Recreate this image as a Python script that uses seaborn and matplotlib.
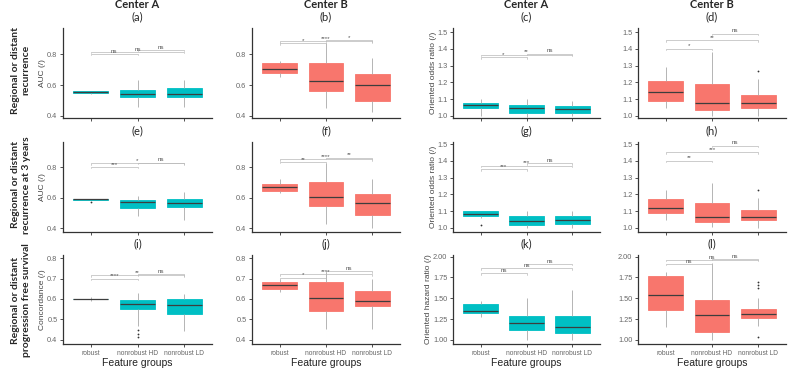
import numpy as np
import pandas as pd
import seaborn as sns
import matplotlib.pyplot as plt
from matplotlib.ticker import FormatStrFormatter

GROUPS = ['robust', 'nonrobust HD', 'nonrobust LD']
PAIRS = [(0, 1), (0, 2), (1, 2)]

# box values per group: whisker low, q1, median, q3, whisker high
box_a = [[0.545, 0.547, 0.553, 0.559, 0.562], [0.458, 0.523, 0.542, 0.568, 0.632], [0.46, 0.523, 0.54, 0.58, 0.63]]
box_b = [[0.65, 0.677, 0.703, 0.742, 0.755], [0.45, 0.563, 0.626, 0.742, 0.87], [0.426, 0.497, 0.60, 0.671, 0.774]]
box_c = [[1.0, 1.048, 1.066, 1.078, 1.10], [0.995, 1.018, 1.048, 1.066, 1.10], [1.0, 1.02, 1.04, 1.06, 1.09]]
box_d = [[1.045, 1.09, 1.145, 1.21, 1.29], [1.0, 1.035, 1.077, 1.19, 1.38], [1.0, 1.05, 1.08, 1.125, 1.22]]
box_e = [[0.585, 0.587, 0.59, 0.592, 0.593], [0.482, 0.535, 0.574, 0.587, 0.61], [0.455, 0.54, 0.567, 0.59, 0.64]]
box_f = [[0.63, 0.645, 0.672, 0.69, 0.725], [0.43, 0.547, 0.607, 0.70, 0.83], [0.40, 0.487, 0.567, 0.627, 0.725]]
box_g = [[1.06, 1.07, 1.085, 1.10, 1.10], [1.0, 1.02, 1.04, 1.072, 1.10], [1.0, 1.025, 1.05, 1.072, 1.10]]
box_h = [[1.045, 1.087, 1.118, 1.17, 1.225], [1.005, 1.037, 1.063, 1.147, 1.265], [1.0, 1.045, 1.068, 1.105, 1.18]]
box_i = [[0.59, 0.598, 0.60, 0.602, 0.61], [0.47, 0.549, 0.576, 0.593, 0.63], [0.445, 0.528, 0.57, 0.60, 0.625]]
box_j = [[0.635, 0.65, 0.668, 0.683, 0.70], [0.455, 0.54, 0.603, 0.683, 0.73], [0.455, 0.565, 0.588, 0.64, 0.70]]
box_k = [[1.28, 1.32, 1.35, 1.43, 1.47], [1.0, 1.12, 1.20, 1.29, 1.50], [1.0, 1.085, 1.16, 1.29, 1.60]]
box_l = [[1.16, 1.36, 1.535, 1.77, 1.82], [1.0, 1.09, 1.295, 1.48, 1.92], [1.17, 1.265, 1.31, 1.37, 1.50]]

# outlier points per group
out_d = [[], [], [1.265]]
out_e = [[0.575], [], []]
out_g = [[1.02], [], []]
out_h = [[], [], [1.225]]
out_i = [[], [0.45, 0.43, 0.415], []]
out_l = [[], [], [1.70, 1.66, 1.62, 1.03]]
no_out = [[], [], []]

# comparison brackets (robust-HD, robust-LD, HD-LD): height, label
brk_a = [(0.80, 'ns'), (0.813, 'ns'), (0.826, 'ns')]
brk_b = [(0.868, '*'), (0.882, '****'), (0.888, '*')]
brk_c = [(1.35, '*'), (1.365, '**'), (1.372, 'ns')]
brk_d = [(1.40, '*'), (1.45, '**'), (1.49, 'ns')]
brk_e = [(0.80, '***'), (0.826, '*'), (0.83, 'ns')]
brk_f = [(0.833, '**'), (0.85, '****'), (0.86, '**')]
brk_g = [(1.35, '***'), (1.37, '***'), (1.385, 'ns')]
brk_h = [(1.40, '**'), (1.45, '***'), (1.49, 'ns')]
brk_i = [(0.70, '****'), (0.715, '**'), (0.72, 'ns')]
brk_j = [(0.705, '*'), (0.72, '****'), (0.735, 'ns')]
brk_k = [(1.80, 'ns'), (1.86, 'ns'), (1.91, 'ns')]
brk_l = [(1.91, 'ns'), (1.96, 'ns'), (1.97, 'ns')]

row_titles = ['Regional or distant\nrecurrence',
              'Regional or distant\nrecurrence at 3 years',
              'Regional or distant\nprogression free survival']
col_titles = ['Center A', 'Center B', 'Center A', 'Center B']
ylabels = [['AUC (/)', None, 'Oriented odds ratio (/)', None],
           ['AUC (/)', None, 'Oriented odds ratio (/)', None],
           ['Concordance (/)', None, 'Oriented hazard ratio (/)', None]]

CYAN = '#00BFC4'
SALMON = '#F8766D'

auc_lim, auc_ticks = (0.387, 0.968), [0.4, 0.6, 0.8]
or_ticks = [1.0, 1.1, 1.2, 1.3, 1.4, 1.5]
panels = [
    ('a', box_a, no_out, brk_a, auc_lim, auc_ticks, '%.1f'),
    ('b', box_b, no_out, brk_b, auc_lim, auc_ticks, '%.1f'),
    ('c', box_c, no_out, brk_c, (0.988, 1.524), or_ticks, '%.1f'),
    ('d', box_d, out_d, brk_d, (0.988, 1.524), or_ticks, '%.1f'),
    ('e', box_e, out_e, brk_e, (0.377, 0.964), auc_ticks, '%.1f'),
    ('f', box_f, no_out, brk_f, (0.377, 0.964), auc_ticks, '%.1f'),
    ('g', box_g, out_g, brk_g, (0.976, 1.512), or_ticks, '%.1f'),
    ('h', box_h, out_h, brk_h, (0.976, 1.512), or_ticks, '%.1f'),
    ('i', box_i, out_i, brk_i, (0.38, 0.815), [0.4, 0.5, 0.6, 0.7, 0.8], '%.1f'),
    ('j', box_j, no_out, brk_j, (0.38, 0.815), [0.4, 0.5, 0.6, 0.7, 0.8], '%.1f'),
    ('k', box_k, no_out, brk_k, (0.95, 2.02), [1.0, 1.25, 1.5, 1.75, 2.0], '%.2f'),
    ('l', box_l, out_l, brk_l, (0.95, 2.02), [1.0, 1.25, 1.5, 1.75, 2.0], '%.2f'),
]

sns.set_theme(style='ticks')
plt.rcParams['font.family'] = ['Liberation Sans', 'DejaVu Sans']

W, H = 792, 368
col_x = [(63, 212), (252, 400), (453, 600), (638, 786)]
row_y = [(28, 118), (142, 232), (255, 344)]

fig = plt.figure(figsize=(7.92, 3.68), dpi=100)

for idx, (letter, box, outl, brk, ylim, yticks, fmt) in enumerate(panels):
    r, c = divmod(idx, 4)
    x0, x1 = col_x[c]
    y0, y1 = row_y[r]
    ax = fig.add_axes([x0 / W, 1 - y1 / H, (x1 - x0) / W, (y1 - y0) / H])
    color = CYAN if c % 2 == 0 else SALMON

    df = pd.DataFrame({'group': np.repeat(GROUPS, 5), 'value': np.concatenate(box)})
    sns.boxplot(data=df, x='group', y='value', order=GROUPS, color=color, saturation=1,
                whis=(0, 100), width=0.75, showcaps=False, linewidth=0.6,
                boxprops=dict(edgecolor=color),
                medianprops=dict(color='#3d3d3d', linewidth=0.9),
                whiskerprops=dict(color='#a8a8a8', linewidth=0.6), ax=ax)

    odf = pd.DataFrame({'group': [g for g, vals in zip(GROUPS, outl) for _ in vals],
                        'value': [v for vals in outl for v in vals]})
    if len(odf):
        sns.stripplot(data=odf, x='group', y='value', order=GROUPS, jitter=False,
                      color='#333333', size=1.3, ax=ax)

    # significance brackets
    tip = 0.015 * (ylim[1] - ylim[0])
    for (i1, i2), (yb, lab) in zip(PAIRS, brk):
        ax.plot([i1, i1, i2, i2], [yb - tip, yb, yb, yb - tip], color='#b8b8b8', lw=0.5)
        ax.text((i1 + i2) / 2, yb + tip * 0.3, lab, ha='center', va='bottom',
                fontsize=4.5, color='#555555')

    ax.set_xlim(-0.6, 2.6)
    ax.set_ylim(*ylim)
    ax.set_yticks(yticks)
    ax.yaxis.set_major_formatter(FormatStrFormatter(fmt))
    sns.despine(ax=ax)
    for s in ['left', 'bottom']:
        ax.spines[s].set_linewidth(0.9)
        ax.spines[s].set_color('#333333')
    ax.tick_params(axis='both', labelsize=5.3, colors='#333333', labelcolor='#666666',
                   length=2.5, width=0.6, pad=1.5)
    ax.tick_params(axis='x', labelsize=4.8)

    yl = ylabels[r][c]
    ax.set_ylabel(yl if yl else '', fontsize=6, color='#444444', labelpad=0.5)
    if r < 2:
        ax.set_xticklabels([])
        ax.set_xlabel('')
    else:
        ax.set_xlabel('Feature groups', fontsize=7.5, color='#222222', labelpad=1)

    xc = (x0 + x1) / 2 / W
    fig.text(xc, 1 - (y0 - 11) / H, f'({letter})', ha='center', va='center',
             fontsize=8, family=['Lato', 'DejaVu Sans'])
    if r == 0:
        fig.text(xc, 1 - 5 / H, col_titles[c], ha='center', va='center',
                 fontsize=8, fontweight='bold', family=['Lato', 'DejaVu Sans'])

row_centers = [70, 185, 300]
for title, yc in zip(row_titles, row_centers):
    fig.text(21 / W, 1 - yc / H, title, rotation=90, ha='center', va='center',
             fontsize=7.5, fontweight='bold', linespacing=1.15,
             family=['Lato', 'DejaVu Sans'])

fig.savefig('out.png', dpi=100)
